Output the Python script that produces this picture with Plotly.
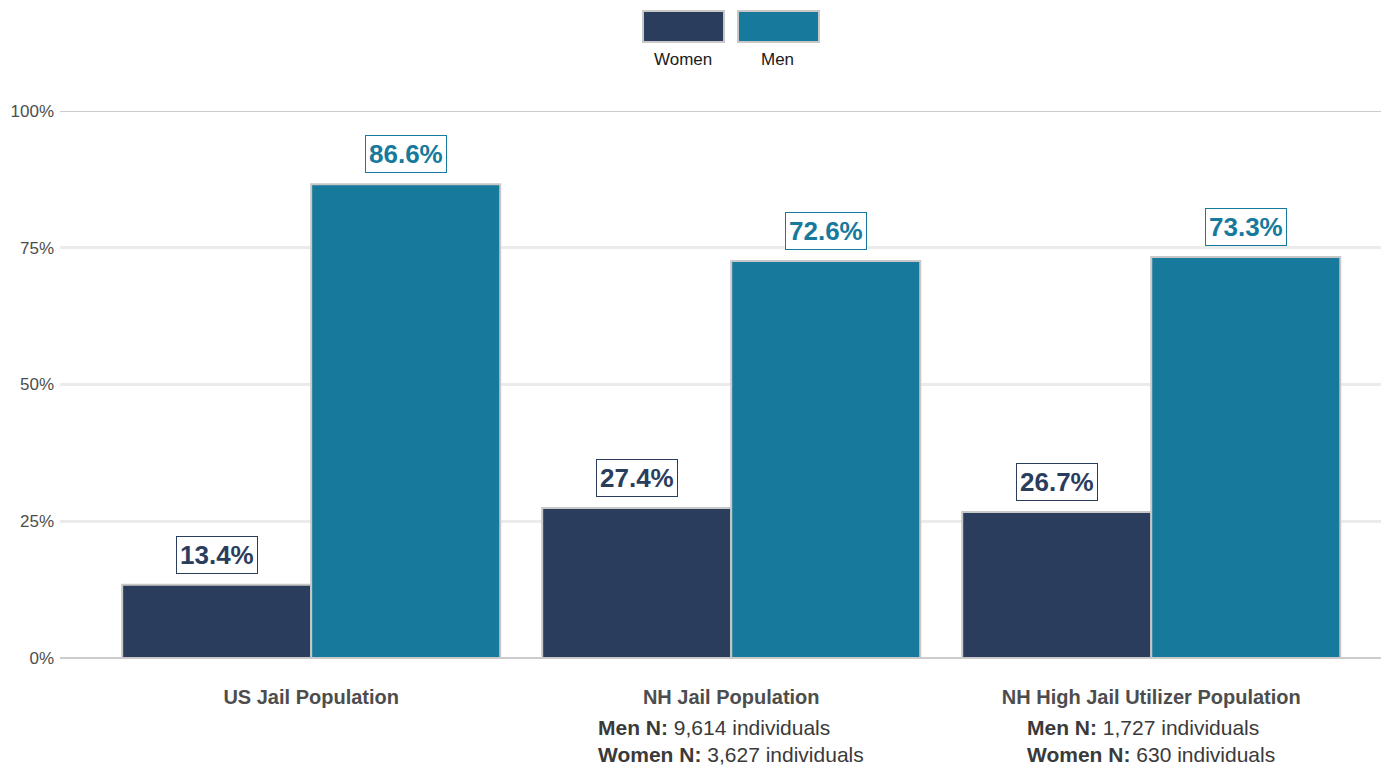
import plotly.graph_objects as go

categories = ["US Jail Population", "NH Jail Population", "NH High Jail Utilizer Population"]
women_share = [0.134, 0.274, 0.267]
men_share = [0.866, 0.726, 0.733]
men_n = [None, "9,614", "1,727"]
women_n = [None, "3,627", "630"]
y_ticks = [0, 0.25, 0.5, 0.75, 1.0]
y_tick_labels = ["0%", "25%", "50%", "75%", "100%"]

WOMEN_COLOR = "#2a3d5c"
MEN_COLOR = "#177a9c"
FONT = "Liberation Sans, Arial, sans-serif"

# page body has an 8px margin; plot area in page pixels: x 60..1389, y 111..658
PX0, PX1, PY0, PY1 = 60, 1389, 111, 658
PW, PH = PX1 - PX0, PY1 - PY0

fig = go.Figure()
fig.add_trace(go.Bar(name="Women", x=categories, y=women_share, marker_color=WOMEN_COLOR,
                     marker_line=dict(color="#c8c8c8", width=2), showlegend=False))
fig.add_trace(go.Bar(name="Men", x=categories, y=men_share, marker_color=MEN_COLOR,
                     marker_line=dict(color="#c8c8c8", width=2), showlegend=False))

annotations = []
for i, cat in enumerate(categories):
    for val, color, off in [(women_share[i], WOMEN_COLOR, -0.225), (men_share[i], MEN_COLOR, 0.225)]:
        annotations.append(dict(
            x=i + off, y=val, xref="x", yref="y", text=f"<b>{val*100:.1f}%</b>",
            showarrow=False, yanchor="bottom", yshift=11,
            font=dict(family=FONT, size=26, color=color),
            bordercolor=color, borderwidth=1, borderpad=3, bgcolor="white"))
    if men_n[i] is not None:
        annotations.append(dict(
            x=i, y=0, xref="x", yref="y", yanchor="top", yshift=-56,
            text=f"<b>Men N:</b> {men_n[i]} individuals<br><b>Women N:</b> {women_n[i]} individuals",
            showarrow=False, align="left",
            font=dict(family=FONT, size=21, color="#3a3a3a")))

# legend (custom, keys above labels)
legend_items = [("Women", WOMEN_COLOR, 683), ("Men", MEN_COLOR, 778)]
shapes = []
for name, color, cx in legend_items:
    shapes.append(dict(type="rect", xref="paper", yref="paper",
                       x0=(cx - 40 - PX0) / PW, x1=(cx + 41 - PX0) / PW,
                       y0=(PY1 - 42) / PH, y1=(PY1 - 11) / PH,
                       fillcolor=color, line=dict(color="#c8c8c8", width=2)))
    annotations.append(dict(x=(cx - PX0) / PW, y=(PY1 - 60) / PH, xref="paper", yref="paper",
                            text=name, showarrow=False, yanchor="middle",
                            font=dict(family=FONT, size=17, color="#1a1a1a")))

shapes.append(dict(type="line", xref="paper", yref="y", x0=0, x1=1, y0=1, y1=1,
                   line=dict(color="#cccccc", width=2), layer="below"))

fig.update_layout(
    barmode="group", bargap=0.1, bargroupgap=0,
    width=1389 - 8, height=768 - 8,
    margin=dict(l=PX0 - 8, r=0, t=PY0 - 8, b=768 - PY1, pad=0),
    plot_bgcolor="white", paper_bgcolor="white",
    font=dict(family=FONT),
    annotations=annotations, shapes=shapes,
    xaxis=dict(range=[-0.598, 2.566], showgrid=False, ticks="", showline=False,
               tickfont=dict(family=FONT, size=20, color="#4d4d4d"),
               tickprefix="<b>", ticksuffix="</b>", ticklabelstandoff=25),
    yaxis=dict(range=[0, 1], tickvals=y_ticks, ticktext=y_tick_labels,
               showgrid=True, gridcolor="#ebebeb", gridwidth=3,
               zeroline=True, zerolinecolor="#cccccc", zerolinewidth=2,
               tickfont=dict(family=FONT, size=17, color="#4d4d4d"),
               ticks="", ticklabelstandoff=5),
)

fig.write_html("out.html")
